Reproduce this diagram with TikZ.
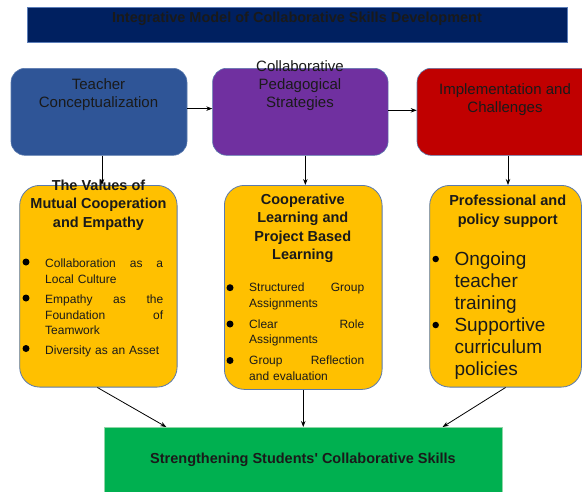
\documentclass[tikz,border=0pt]{standalone}
\usepackage{fontspec}
\setmainfont{Liberation Sans}[Ligatures=TeXOff]
\usetikzlibrary{arrows.meta}
\definecolor{navy}{HTML}{002060}
\definecolor{navyedge}{HTML}{5B7DB8}
\definecolor{tblue}{HTML}{2F5597}
\definecolor{tpurple}{HTML}{7030A0}
\definecolor{tred}{HTML}{C00000}
\definecolor{amber}{HTML}{FFC000}
\definecolor{edgeblue}{HTML}{5A7AAE}
\definecolor{tgreen}{HTML}{00B050}
\definecolor{greenedge}{HTML}{8FD6A6}
\definecolor{textdark}{HTML}{1A1A1A}
\begin{document}
\begin{tikzpicture}[x=1pt,y=-1pt,
  arr/.style={-{Stealth[length=6pt,width=4.5pt]}, line width=0.8pt, black},
  topbox/.style={draw=edgeblue, line width=0.6pt, rounded corners=14pt, inner sep=0, anchor=north west},
  midbox/.style={draw=edgeblue, line width=0.8pt, fill=amber, rounded corners=20pt, inner sep=0, anchor=north west},
  rowtext/.style={align=center, inner sep=0, text=textdark, font=\fontsize{15}{18}\selectfont},
  headtext/.style={align=center, inner sep=0, text=textdark, font=\fontsize{14.5}{18.5}\selectfont\bfseries},
  itemtxt/.style={anchor=base west, text width=118pt, align=left, inner sep=0, text=textdark, font=\fontsize{12}{15.8}\selectfont},
  bigitem/.style={anchor=base west, text width=125pt, align=left, inner sep=0, text=textdark, font=\fontsize{19}{22}\selectfont},
  dot/.style={circle, fill=black, inner sep=0, minimum size=7pt},
]
\clip (0,0) rectangle (582,491);
% title bar
\node[draw=navyedge, fill=navy, line width=0.6pt, inner sep=0, anchor=north west,
      minimum width=539.4pt, minimum height=35.6pt] (titlebar) at (27.3,6.7) {};
\node[headtext] (titletxt) at (297,18.5) {Integrative Model of Collaborative Skills Development};

% row 1
\node[topbox, fill=tblue, minimum width=176pt, minimum height=87pt] (teach) at (10.7,68) {};
\node[topbox, fill=tpurple, minimum width=175.5pt, minimum height=87pt] (strat) at (212.3,68) {};
\node[topbox, fill=tred, minimum width=182pt, minimum height=87pt] (impl) at (416.7,68) {};
\node[rowtext] (teachtxt) at (98.5,94.5) {Teacher\\Conceptualization};
\node[rowtext] (strattxt) at (300,85.5) {Collaborative\\Pedagogical\\Strategies};
\node[rowtext] (impltxt) at (505,100) {Implementation and\\Challenges};

% row 2
\node[midbox, minimum width=157.4pt, minimum height=201.7pt] (values) at (19.3,185) {};
\node[midbox, minimum width=157.7pt, minimum height=204pt] (coop) at (224,185) {};
\node[midbox, minimum width=151.7pt, minimum height=201.7pt] (prof) at (429.3,185) {};

\node[headtext] (valuestitle) at (98.5,205) {The Values of\\Mutual Cooperation\\and Empathy};
\node[headtext] (cooptitle) at (302.8,228.5) {Cooperative\\Learning and\\Project Based\\Learning};
\node[headtext] (proftitle) at (507.7,211) {Professional and\\policy support};

% left items
\node[dot] (d1) at (26,262) {};
\node[dot] (d2) at (26,298) {};
\node[dot] (d3) at (26,348.5) {};
\node[itemtxt] (i1) at (45,267.3) {Collaboration\hfill as\hfill a\\Local Culture};
\node[itemtxt] (i2) at (45,303.3) {Empathy\hfill as\hfill the\\Foundation\hfill of\\Teamwork};
\node[itemtxt] (i3) at (45,354) {Diversity as an Asset};

% middle items
\node[dot] (d4) at (230,287.7) {};
\node[dot] (d5) at (230,324) {};
\node[dot] (d6) at (230,360.5) {};
\node[itemtxt, text width=115pt] (i4) at (249,291.7) {Structured\hfill Group\\Assignments};
\node[itemtxt, text width=115pt] (i5) at (249,328) {Clear\hfill Role\\Assignments};
\node[itemtxt, text width=115pt] (i6) at (249,364.7) {Group\hfill Reflection\\and evaluation};

% right items
\node[dot, minimum size=6.5pt] (d7) at (435.7,259) {};
\node[dot, minimum size=6.5pt] (d8) at (435.7,325) {};
\node[bigitem] (i7) at (454.3,265.5) {Ongoing\\teacher\\training};
\node[bigitem] (i8) at (454.3,331.5) {Supportive\\curriculum\\policies};

% bottom
\node[draw=greenedge, fill=tgreen, line width=0.6pt, inner sep=0, anchor=north west,
      minimum width=397.7pt, minimum height=70pt] (result) at (104.3,427) {};
\node[headtext] (resulttxt) at (303,459.5) {Strengthening Students' Collaborative Skills};

% connectors
\draw[arr] ([yshift=3.2pt]teach.east) -- ([yshift=3.2pt]strat.west);
\draw[arr] ([yshift=1.5pt]strat.east) -- ([yshift=1.5pt]impl.west |- strat.east);
\draw[arr] ([xshift=3pt]teach.south) -- ([xshift=3pt]teach.south |- values.north);
\draw[arr] ([xshift=5pt]strat.south) -- ([xshift=5pt]strat.south |- coop.north);
\draw[arr] (impl.south) -- (impl.south |- prof.north);
\draw[arr] ([xshift=-1pt]values.south) -- ([xshift=62pt]result.north west);
\draw[arr] (coop.south) -- (coop.south |- result.north);
\draw[arr] (prof.south) -- ([xshift=-60pt]result.north east);
\end{tikzpicture}
\end{document}
